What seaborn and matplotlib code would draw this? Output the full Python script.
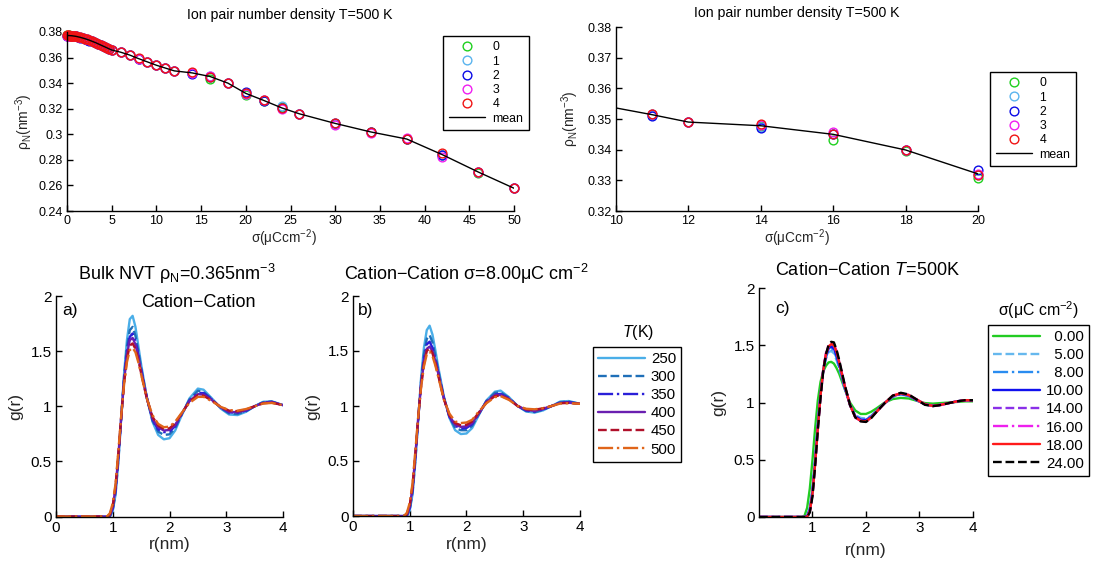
import numpy as np
import pandas as pd
import matplotlib
matplotlib.use("Agg")
import matplotlib.pyplot as plt
import seaborn as sns

# ---------------- data: ion pair number density ----------------
sigma_full = [0, 0.1, 0.2, 0.3, 0.4, 0.5, 0.6, 0.7, 0.8, 0.9, 1.0, 1.25, 1.5, 1.75, 2.0, 2.25,
              2.5, 2.75, 3.0, 3.25, 3.5, 3.75, 4.0, 4.25, 4.5, 4.75, 5.0, 6, 7, 8, 9, 10, 11, 12,
              14, 16, 18, 20, 22, 24, 26, 30, 34, 38, 42, 46, 50]
rho_mean = [0.3772, 0.3772, 0.3772, 0.3772, 0.3771, 0.3771, 0.3770, 0.3769, 0.3768, 0.3767, 0.3766,
            0.3762, 0.3758, 0.3753, 0.3748, 0.3742, 0.3736, 0.3729, 0.3722, 0.3715, 0.3707, 0.3699,
            0.3691, 0.3683, 0.3675, 0.3667, 0.3659, 0.3642, 0.3620, 0.3592, 0.3566, 0.3540, 0.3518,
            0.3496, 0.3480, 0.3452, 0.3400, 0.3320, 0.3265, 0.3207, 0.3160, 0.3085, 0.3018, 0.2963,
            0.2840, 0.2705, 0.2578]
rho_run0 = [0.3773, 0.3772, 0.3773, 0.3772, 0.3771, 0.3772, 0.3770, 0.3769, 0.3768, 0.3767, 0.3766,
            0.3762, 0.3757, 0.3753, 0.3748, 0.3742, 0.3735, 0.3729, 0.3722, 0.3714, 0.3707, 0.3698,
            0.3691, 0.3683, 0.3674, 0.3667, 0.3659, 0.3642, 0.3620, 0.3592, 0.3566, 0.3540, 0.3518,
            0.3496, 0.3478, 0.3433, 0.3398, 0.3306, 0.3264, 0.3210, 0.3158, 0.3083, 0.3016, 0.2960,
            0.2838, 0.2695, 0.2576]
rho_run1 = [0.3772, 0.3772, 0.3772, 0.3772, 0.3771, 0.3771, 0.3770, 0.3769, 0.3768, 0.3767, 0.3766,
            0.3762, 0.3758, 0.3753, 0.3748, 0.3742, 0.3736, 0.3729, 0.3722, 0.3715, 0.3707, 0.3699,
            0.3691, 0.3683, 0.3675, 0.3667, 0.3659, 0.3642, 0.3620, 0.3592, 0.3566, 0.3540, 0.3518,
            0.3496, 0.3476, 0.3455, 0.3398, 0.3315, 0.3268, 0.3218, 0.3161, 0.3082, 0.3018, 0.2966,
            0.2836, 0.2707, 0.2580]
rho_run2 = [0.3771, 0.3772, 0.3771, 0.3771, 0.3770, 0.3770, 0.3769, 0.3768, 0.3767, 0.3766, 0.3765,
            0.3760, 0.3756, 0.3751, 0.3746, 0.3740, 0.3733, 0.3726, 0.3719, 0.3711, 0.3703, 0.3695,
            0.3687, 0.3679, 0.3671, 0.3664, 0.3657, 0.3641, 0.3620, 0.3592, 0.3566, 0.3540, 0.3517,
            0.3496, 0.3472, 0.3450, 0.3400, 0.3333, 0.3263, 0.3205, 0.3160, 0.3087, 0.3020, 0.2962,
            0.2838, 0.2706, 0.2578]
rho_run3 = [0.3772, 0.3772, 0.3772, 0.3772, 0.3771, 0.3771, 0.3770, 0.3769, 0.3768, 0.3767, 0.3766,
            0.3762, 0.3758, 0.3753, 0.3748, 0.3742, 0.3736, 0.3729, 0.3722, 0.3715, 0.3707, 0.3699,
            0.3691, 0.3683, 0.3675, 0.3667, 0.3659, 0.3642, 0.3620, 0.3592, 0.3566, 0.3540, 0.3518,
            0.3496, 0.3478, 0.3459, 0.3402, 0.3318, 0.3265, 0.3200, 0.3159, 0.3075, 0.3010, 0.2968,
            0.2824, 0.2708, 0.2578]
rho_run4 = [0.3773, 0.3773, 0.3773, 0.3772, 0.3772, 0.3771, 0.3770, 0.3770, 0.3769, 0.3768, 0.3767,
            0.3763, 0.3759, 0.3754, 0.3749, 0.3743, 0.3737, 0.3730, 0.3723, 0.3716, 0.3708, 0.3700,
            0.3692, 0.3684, 0.3676, 0.3668, 0.3660, 0.3643, 0.3621, 0.3593, 0.3566, 0.3541, 0.3518,
            0.3496, 0.3486, 0.3450, 0.3402, 0.3319, 0.3265, 0.3205, 0.3160, 0.3090, 0.3020, 0.2962,
            0.2855, 0.2708, 0.2578]

sigma_zoom_mean = [10, 11, 12, 14, 16, 18, 20]
rho_zoom_mean = [0.3536, 0.3514, 0.3490, 0.3478, 0.3450, 0.3399, 0.3321]
sigma_zoom = [11, 12, 14, 16, 18, 20]
rho_zoom_run0 = [0.3515, 0.3490, 0.3476, 0.3432, 0.3397, 0.3306]
rho_zoom_run1 = [0.3514, 0.3491, 0.3475, 0.3452, 0.3398, 0.3318]
rho_zoom_run2 = [0.3511, 0.3490, 0.3471, 0.3450, 0.3399, 0.3333]
rho_zoom_run3 = [0.3516, 0.3491, 0.3480, 0.3457, 0.3400, 0.3322]
rho_zoom_run4 = [0.3517, 0.3490, 0.3485, 0.3450, 0.3400, 0.3319]
run_labels = ["0", "1", "2", "3", "4"]

# ---------------- data: radial distribution functions ----------------
r_ab = [0, 0.9, 0.95, 1.0, 1.05, 1.1, 1.15, 1.2, 1.25, 1.3, 1.35, 1.4, 1.45, 1.5, 1.6, 1.7, 1.8,
        1.9, 2.0, 2.1, 2.2, 2.35, 2.5, 2.6, 2.75, 2.9, 3.05, 3.2, 3.35, 3.5, 3.65, 3.8, 4.0]
temps = ["250", "300", "350", "400", "450", "500"]
g_a_250 = [0, 0, 0, 0.05, 0.2, 0.5, 0.9, 1.3, 1.6, 1.79, 1.82, 1.72, 1.55, 1.38, 1.08, 0.86, 0.74,
           0.70, 0.71, 0.78, 0.90, 1.07, 1.16, 1.15, 1.07, 0.98, 0.925, 0.92, 0.95, 1.00, 1.04, 1.045, 1.01]
g_a_300 = [0, 0, 0, 0.06, 0.22, 0.52, 0.9, 1.27, 1.54, 1.69, 1.72, 1.64, 1.5, 1.35, 1.08, 0.87, 0.77,
           0.74, 0.745, 0.80, 0.91, 1.06, 1.14, 1.13, 1.065, 0.985, 0.935, 0.93, 0.955, 1.0, 1.037, 1.042, 1.01]
g_a_350 = [0, 0, 0.01, 0.07, 0.24, 0.54, 0.9, 1.25, 1.5, 1.63, 1.66, 1.59, 1.47, 1.33, 1.08, 0.88, 0.79,
           0.765, 0.77, 0.82, 0.915, 1.05, 1.12, 1.12, 1.06, 0.99, 0.945, 0.94, 0.96, 1.0, 1.033, 1.04, 1.01]
g_a_400 = [0, 0, 0.01, 0.09, 0.26, 0.56, 0.91, 1.23, 1.47, 1.6, 1.62, 1.56, 1.45, 1.32, 1.075, 0.89, 0.81,
           0.78, 0.785, 0.83, 0.92, 1.045, 1.11, 1.105, 1.055, 0.99, 0.95, 0.945, 0.965, 1.0, 1.03, 1.037, 1.01]
g_a_450 = [0, 0, 0.02, 0.10, 0.28, 0.58, 0.91, 1.21, 1.43, 1.55, 1.57, 1.52, 1.42, 1.30, 1.07, 0.905, 0.825,
           0.795, 0.80, 0.845, 0.925, 1.04, 1.10, 1.095, 1.05, 0.995, 0.96, 0.955, 0.97, 1.0, 1.027, 1.033, 1.01]
g_a_500 = [0, 0, 0.03, 0.12, 0.30, 0.60, 0.92, 1.2, 1.4, 1.51, 1.53, 1.49, 1.40, 1.29, 1.07, 0.92, 0.84,
           0.81, 0.815, 0.86, 0.93, 1.03, 1.085, 1.085, 1.045, 0.995, 0.965, 0.96, 0.975, 1.0, 1.025, 1.03, 1.01]

g_b_250 = [0, 0, 0, 0.05, 0.2, 0.5, 0.88, 1.26, 1.53, 1.69, 1.73, 1.65, 1.51, 1.36, 1.09, 0.89, 0.78,
           0.745, 0.75, 0.80, 0.90, 1.05, 1.13, 1.14, 1.08, 1.0, 0.95, 0.94, 0.96, 1.0, 1.04, 1.045, 1.02]
g_b_300 = [0, 0, 0, 0.06, 0.22, 0.52, 0.88, 1.23, 1.47, 1.61, 1.645, 1.58, 1.46, 1.33, 1.08, 0.9, 0.8,
           0.78, 0.78, 0.82, 0.91, 1.045, 1.12, 1.125, 1.075, 1.0, 0.955, 0.945, 0.965, 1.0, 1.035, 1.04, 1.02]
g_b_350 = [0, 0, 0.01, 0.07, 0.24, 0.54, 0.89, 1.21, 1.43, 1.56, 1.585, 1.53, 1.43, 1.31, 1.075, 0.9, 0.82,
           0.795, 0.80, 0.835, 0.915, 1.04, 1.105, 1.11, 1.07, 1.0, 0.96, 0.95, 0.97, 1.0, 1.03, 1.035, 1.02]
g_b_400 = [0, 0, 0.01, 0.09, 0.26, 0.56, 0.9, 1.19, 1.40, 1.52, 1.54, 1.5, 1.41, 1.30, 1.07, 0.91, 0.83,
           0.81, 0.815, 0.845, 0.92, 1.035, 1.1, 1.1, 1.065, 1.0, 0.965, 0.955, 0.975, 1.0, 1.028, 1.03, 1.02]
g_b_450 = [0, 0, 0.02, 0.10, 0.28, 0.58, 0.9, 1.18, 1.38, 1.5, 1.525, 1.48, 1.39, 1.28, 1.065, 0.915, 0.845,
           0.825, 0.83, 0.86, 0.93, 1.03, 1.09, 1.095, 1.06, 1.0, 0.97, 0.965, 0.98, 1.0, 1.025, 1.028, 1.02]
g_b_500 = [0, 0, 0.03, 0.12, 0.30, 0.60, 0.91, 1.17, 1.36, 1.47, 1.495, 1.455, 1.37, 1.27, 1.06, 0.93, 0.86,
           0.845, 0.85, 0.875, 0.94, 1.025, 1.08, 1.09, 1.055, 1.0, 0.975, 0.97, 0.98, 1.0, 1.022, 1.025, 1.02]

r_c = [0, 0.8, 0.85, 0.9, 0.95, 1.0, 1.05, 1.1, 1.15, 1.2, 1.25, 1.3, 1.35, 1.4, 1.45, 1.5, 1.6, 1.7,
       1.8, 1.9, 2.0, 2.1, 2.2, 2.35, 2.5, 2.65, 2.8, 2.95, 3.1, 3.25, 3.4, 3.55, 3.7, 3.85, 4.0]
sigmas_c = ["0.00", "5.00", "8.00", "10.00", "14.00", "16.00", "18.00", "24.00"]
g_c_0 = [0, 0, 0.01, 0.08, 0.25, 0.5, 0.78, 1.02, 1.18, 1.27, 1.32, 1.35, 1.355, 1.34, 1.3, 1.25, 1.12, 1.0,
         0.93, 0.9, 0.9, 0.92, 0.95, 1.0, 1.03, 1.04, 1.035, 1.015, 0.995, 0.99, 0.995, 1.0, 1.005, 1.01, 1.01]
g_c_5 = [0, 0, 0, 0.01, 0.08, 0.25, 0.52, 0.83, 1.08, 1.27, 1.38, 1.44, 1.45, 1.43, 1.37, 1.3, 1.13, 0.98,
         0.89, 0.865, 0.86, 0.885, 0.93, 0.995, 1.05, 1.07, 1.055, 1.02, 0.985, 0.97, 0.98, 0.995, 1.01, 1.02, 1.02]
g_c_8 = [0, 0, 0, 0.01, 0.07, 0.23, 0.5, 0.81, 1.07, 1.27, 1.39, 1.46, 1.47, 1.45, 1.39, 1.31, 1.13, 0.98,
         0.88, 0.855, 0.85, 0.88, 0.925, 0.995, 1.05, 1.075, 1.06, 1.02, 0.985, 0.97, 0.98, 0.995, 1.01, 1.02, 1.02]
g_c_10 = [0, 0, 0, 0.01, 0.06, 0.22, 0.49, 0.8, 1.07, 1.28, 1.41, 1.47, 1.49, 1.47, 1.41, 1.33, 1.14, 0.98,
          0.88, 0.85, 0.845, 0.875, 0.925, 0.995, 1.055, 1.075, 1.06, 1.02, 0.985, 0.97, 0.98, 0.995, 1.01, 1.02, 1.02]
g_c_14 = [0, 0, 0, 0, 0.05, 0.2, 0.47, 0.78, 1.06, 1.28, 1.42, 1.49, 1.515, 1.5, 1.44, 1.35, 1.15, 0.98,
          0.87, 0.84, 0.835, 0.87, 0.92, 0.995, 1.055, 1.08, 1.065, 1.025, 0.985, 0.97, 0.98, 0.995, 1.01, 1.02, 1.02]
g_c_16 = [0, 0, 0, 0, 0.05, 0.2, 0.47, 0.78, 1.06, 1.28, 1.43, 1.5, 1.525, 1.51, 1.45, 1.36, 1.15, 0.98,
          0.87, 0.84, 0.835, 0.87, 0.92, 0.995, 1.06, 1.08, 1.065, 1.025, 0.985, 0.97, 0.98, 0.995, 1.01, 1.02, 1.02]
g_c_18 = [0, 0, 0, 0, 0.05, 0.2, 0.47, 0.78, 1.06, 1.28, 1.42, 1.49, 1.51, 1.5, 1.44, 1.35, 1.15, 0.98,
          0.87, 0.84, 0.835, 0.87, 0.92, 0.995, 1.06, 1.08, 1.065, 1.025, 0.985, 0.97, 0.98, 0.995, 1.01, 1.02, 1.02]
g_c_24 = [0, 0, 0, 0, 0.04, 0.18, 0.45, 0.76, 1.04, 1.27, 1.42, 1.5, 1.53, 1.525, 1.46, 1.37, 1.16, 0.98,
          0.87, 0.835, 0.83, 0.865, 0.92, 0.995, 1.06, 1.085, 1.07, 1.025, 0.98, 0.968, 0.978, 0.995, 1.01, 1.02, 1.02]

# ---------------- styles ----------------
run_colors = ["#1fd01f", "#5ab4ee", "#0a0ae6", "#f01ef0", "#f01414"]
T_colors = ["#4aaee8", "#1f6fb8", "#2a1fd8", "#6a1fb0", "#b0102a", "#e0651a"]
T_styles = ["-", "--", "-.", "-", "--", "-."]
c_colors = ["#22cc22", "#66b8ee", "#2a8cf0", "#1010ee", "#8a30e8", "#ee20ee", "#ff1a1a", "#000000"]
c_styles = ["-", "--", "-.", "-", "--", "-.", "-", "--"]

sns.set_theme(style="ticks")
plt.rcParams["font.family"] = ["Liberation Sans", "DejaVu Sans"]
plt.rcParams["mathtext.fontset"] = "custom"
plt.rcParams["mathtext.rm"] = "Liberation Sans"
plt.rcParams["mathtext.it"] = "Liberation Sans:italic"
plt.rcParams["mathtext.bf"] = "Liberation Sans:bold"
plt.rcParams["xtick.direction"] = "in"
plt.rcParams["ytick.direction"] = "in"
plt.rcParams["axes.linewidth"] = 1.0
plt.rcParams["axes.edgecolor"] = "black"
plt.rcParams["xtick.color"] = "black"
plt.rcParams["ytick.color"] = "black"
plt.rcParams["text.color"] = "black"

W, H = 1097, 564
fig = plt.figure(figsize=(W / 100, H / 100), dpi=100)
fig.patch.set_facecolor("white")


def add_ax(l, t, r, b):
    return fig.add_axes([l / W, 1 - b / H, (r - l) / W, (b - t) / H])


def fx(x):
    return x / W


def fy(y):
    return 1 - y / H


def style_ax(ax, fs):
    sns.despine(ax=ax)
    ax.tick_params(direction="in", length=4, width=1.0, labelsize=fs, pad=3)
    ax.set_facecolor("white")


# ---------------- top left ----------------
axTL = add_ax(67, 32, 514, 211)
runs_full = [rho_run0, rho_run1, rho_run2, rho_run3, rho_run4]
for lab, col, vals in zip(run_labels, run_colors, runs_full):
    sns.lineplot(x=sigma_full, y=vals, ax=axTL, marker="o", linestyle="none", markersize=6.3,
                 markerfacecolor="none", markeredgecolor=col, markeredgewidth=1.0, color=col,
                 label=lab, clip_on=False, estimator=None, legend=False)
sns.lineplot(x=sigma_full, y=rho_mean, ax=axTL, color="black", lw=1.0, label="mean",
             estimator=None, legend=False)
axTL.set_xlim(0, 50)
axTL.set_ylim(0.24, 0.38)
axTL.set_xticks(range(0, 51, 5))
axTL.set_yticks([0.24, 0.26, 0.28, 0.30, 0.32, 0.34, 0.36, 0.38])
axTL.set_yticklabels(["0.24", "0.26", "0.28", "0.3", "0.32", "0.34", "0.36", "0.38"])
style_ax(axTL, 9)
fig.text(fx(290), fy(15), "Ion pair number density T=500 K", fontsize=10.2, ha="center", va="center")
axTL.set_xlabel(r"σ(μCcm$^{-2}$)", fontsize=9.8)
axTL.set_ylabel(r"ρ$_{\mathregular{N}}$(nm$^{-3}$)", fontsize=10)
axTL.xaxis.set_label_coords(0.485, (211 - 238) / (211 - 32))
axTL.xaxis.label.set_va("center")
axTL.yaxis.set_label_coords((24 - 67) / (514 - 67), 0.5)
axTL.yaxis.label.set_va("center")
h, l = axTL.get_legend_handles_labels()
legTL = fig.legend(h, l, loc="upper left", bbox_to_anchor=(fx(443), fy(36)), fontsize=8.8,
                   frameon=True, fancybox=False, edgecolor="black", framealpha=1, numpoints=1,
                   handlelength=3.0, handletextpad=0.6, labelspacing=0.18, borderpad=0.45,
                   borderaxespad=0)
legTL.get_frame().set_linewidth(1.0)

# ---------------- top right ----------------
axTR = add_ax(616, 27, 978, 211)
runs_zoom = [rho_zoom_run0, rho_zoom_run1, rho_zoom_run2, rho_zoom_run3, rho_zoom_run4]
for lab, col, vals in zip(run_labels, run_colors, runs_zoom):
    sns.lineplot(x=sigma_zoom, y=vals, ax=axTR, marker="o", linestyle="none", markersize=6.3,
                 markerfacecolor="none", markeredgecolor=col, markeredgewidth=1.0, color=col,
                 label=lab, clip_on=False, estimator=None, legend=False)
sns.lineplot(x=sigma_zoom_mean, y=rho_zoom_mean, ax=axTR, color="black", lw=1.0, label="mean",
             estimator=None, legend=False)
axTR.set_xlim(10, 20)
axTR.set_ylim(0.32, 0.38)
axTR.set_xticks(range(10, 21, 2))
axTR.set_yticks([0.32, 0.33, 0.34, 0.35, 0.36, 0.37, 0.38])
axTR.set_yticklabels(["0.32", "0.33", "0.34", "0.35", "0.36", "0.37", "0.38"])
style_ax(axTR, 9)
fig.text(fx(797), fy(13), "Ion pair number density T=500 K", fontsize=10.2, ha="center", va="center")
axTR.set_xlabel(r"σ(μCcm$^{-2}$)", fontsize=9.8)
axTR.set_ylabel(r"ρ$_{\mathregular{N}}$(nm$^{-3}$)", fontsize=10)
axTR.xaxis.set_label_coords(0.5, (211 - 238) / (211 - 27))
axTR.xaxis.label.set_va("center")
axTR.yaxis.set_label_coords((570 - 616) / (978 - 616), 0.5)
axTR.yaxis.label.set_va("center")
h, l = axTR.get_legend_handles_labels()
legTR = fig.legend(h, l, loc="upper left", bbox_to_anchor=(fx(990), fy(72)), fontsize=8.8,
                   frameon=True, fancybox=False, edgecolor="black", framealpha=1, numpoints=1,
                   handlelength=3.0, handletextpad=0.6, labelspacing=0.18, borderpad=0.45,
                   borderaxespad=0)
legTR.get_frame().set_linewidth(1.0)


# ---------------- bottom panels ----------------
def gr_axes(ax, box, xt, xlab_y):
    ax.set_xlim(0, 4)
    ax.set_ylim(0, 2)
    ax.set_xticks(xt)
    ax.set_yticks([0, 0.5, 1, 1.5, 2])
    ax.set_yticklabels(["0", "0.5", "1", "1.5", "2"])
    style_ax(ax, 11)
    ax.set_xlabel("r(nm)", fontsize=12.5)
    ax.set_ylabel("g(r)", fontsize=12.5)
    l, t, r, b = box
    ax.xaxis.set_label_coords(0.5, (b - xlab_y) / (b - t))
    ax.xaxis.label.set_va("center")
    ax.yaxis.set_label_coords(-40 / (r - l), 0.5)
    ax.yaxis.label.set_va("center")


LW = 1.7
boxA = (56, 296, 283, 516.5)
axA = add_ax(*boxA)
for lab, col, ls, vals in zip(temps, T_colors, T_styles,
                              [g_a_250, g_a_300, g_a_350, g_a_400, g_a_450, g_a_500]):
    sns.lineplot(x=r_ab, y=vals, ax=axA, color=col, linestyle=ls, lw=LW, label=lab,
                 estimator=None, legend=False)
gr_axes(axA, boxA, [0, 1, 2, 3, 4], 545)
fig.text(fx(62), fy(311), "a)", fontsize=12.5, va="center", ha="left")
fig.text(fx(177), fy(274), r"Bulk NVT ρ$_{\mathregular{N}}$=0.365nm$^{-3}$", fontsize=13,
         ha="center", va="center")
fig.text(fx(198), fy(302), "Cation−Cation", fontsize=13, ha="center", va="center")

boxB = (353, 296, 580, 516)
axB = add_ax(*boxB)
for lab, col, ls, vals in zip(temps, T_colors, T_styles,
                              [g_b_250, g_b_300, g_b_350, g_b_400, g_b_450, g_b_500]):
    sns.lineplot(x=r_ab, y=vals, ax=axB, color=col, linestyle=ls, lw=LW, label=lab,
                 estimator=None, legend=False)
gr_axes(axB, boxB, [0, 1, 2, 3, 4], 545)
fig.text(fx(358), fy(311), "b)", fontsize=12.5, va="center", ha="left")
fig.text(fx(466), fy(274), r"Cation−Cation σ=8.00μC cm$^{-2}$", fontsize=13,
         ha="center", va="center")
h, l = axB.get_legend_handles_labels()
legB = fig.legend(h, l, loc="upper left", bbox_to_anchor=(fx(593), fy(347)), fontsize=10.8,
                  frameon=True, fancybox=False, edgecolor="black", framealpha=1,
                  handlelength=3.1, handletextpad=0.4, labelspacing=0.27, borderpad=0.35,
                  borderaxespad=0)
legB.get_frame().set_linewidth(1.0)
fig.text(fx(638), fy(332), r"$T$(K)", fontsize=11.5, ha="center", va="center")

boxC = (759, 288, 973, 517)
axC = add_ax(*boxC)
for lab, col, ls, vals in zip(sigmas_c, c_colors, c_styles,
                              [g_c_0, g_c_5, g_c_8, g_c_10, g_c_14, g_c_16, g_c_18, g_c_24]):
    sns.lineplot(x=r_c, y=vals, ax=axC, color=col, linestyle=ls, lw=LW,
                 label=("  " + lab if len(lab) == 4 else lab), estimator=None, legend=False)
gr_axes(axC, boxC, [1, 2, 3, 4], 550)
fig.text(fx(775), fy(308), "c)", fontsize=12.5, va="center", ha="left")
fig.text(fx(867), fy(270), r"Cation−Cation $T$=500K", fontsize=13, ha="center", va="center")
h, l = axC.get_legend_handles_labels()
legC = fig.legend(h, l, loc="upper left", bbox_to_anchor=(fx(988), fy(325)), fontsize=10.8,
                  frameon=True, fancybox=False, edgecolor="black", framealpha=1,
                  handlelength=3.1, handletextpad=0.4, labelspacing=0.27, borderpad=0.35,
                  borderaxespad=0)
legC.get_frame().set_linewidth(1.0)
fig.text(fx(1038), fy(310), r"σ(μC cm$^{-2}$)", fontsize=11.4, ha="center", va="center")

fig.savefig("out.png", dpi=100, facecolor="white")
